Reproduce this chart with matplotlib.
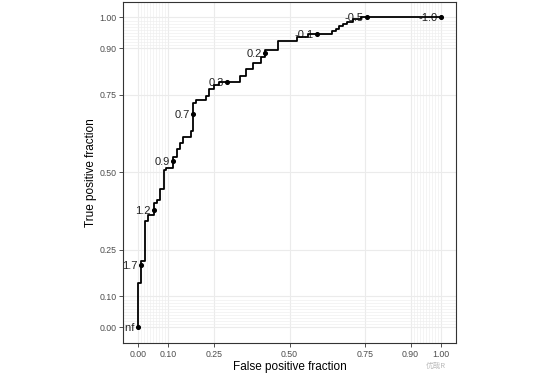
import matplotlib
matplotlib.use("Agg")
import matplotlib.pyplot as plt
import numpy as np

plt.rcParams['font.family'] = ['Liberation Sans', 'DejaVu Sans']

# ROC step corners (false positive fraction, true positive fraction)
fpr = [0.0, 0.0099, 0.0211, 0.031, 0.0528, 0.0627, 0.0726, 0.0838, 0.0914,
       0.1162, 0.1277, 0.1386, 0.1498, 0.1762, 0.1815, 0.1927, 0.2234, 0.2333,
       0.2508, 0.2663, 0.3356, 0.3564, 0.3785, 0.405, 0.4198, 0.461, 0.526,
       0.56, 0.6416, 0.6525, 0.664, 0.6756, 0.6888, 0.7086, 0.735, 1.0]
tpr = [0.0, 0.1446, 0.214, 0.3424, 0.364, 0.4015, 0.41, 0.4465, 0.507,
       0.516, 0.551, 0.576, 0.594, 0.6155, 0.634, 0.7228, 0.7334, 0.7462,
       0.770, 0.7816, 0.7912, 0.8105, 0.833, 0.8538, 0.8725, 0.8956, 0.9239,
       0.9358, 0.9454, 0.955, 0.963, 0.971, 0.979, 0.987, 0.9952, 1.0]

# labelled cutoffs
cut_fpr = [0.0, 0.0099, 0.0528, 0.1162, 0.1815, 0.295, 0.4198, 0.59, 0.757, 1.0]
cut_tpr = [0.0, 0.203, 0.380, 0.538, 0.688, 0.791, 0.886, 0.9454, 1.0, 1.0]
cut_lab = ["Inf", "1.7", "1.2", "0.9", "0.7", "0.3", "0.2", "-0.1", "-0.5", "-1.0"]

major_breaks = [0, 0.1, 0.25, 0.5, 0.75, 0.9, 1]
major_labels = ["0.00", "0.10", "0.25", "0.50", "0.75", "0.90", "1.00"]
minor_breaks = list(np.round(np.arange(0, 0.101, 0.01), 2)) + list(np.round(np.arange(0.9, 1.001, 0.01), 2))

fig = plt.figure(figsize=(5.45, 3.84), dpi=100)
ax = fig.add_axes([0.2257, 0.1068, 0.611, 0.888])

ax.plot(fpr, tpr, drawstyle='steps-pre', color='black', lw=1.3, zorder=3)
ax.scatter(cut_fpr, cut_tpr, s=7, color='black', zorder=4)
for x, y, t in zip(cut_fpr, cut_tpr, cut_lab):
    ax.annotate(t, (x, y), xytext=(-2.5, 0), textcoords='offset points',
                ha='right', va='center_baseline', fontsize=8, color='#222222', zorder=2)

ax.set_xlim(-0.05, 1.05)
ax.set_ylim(-0.05, 1.05)
ax.set_xticks(major_breaks)
ax.set_xticklabels(major_labels)
ax.set_yticks(major_breaks)
ax.set_yticklabels(major_labels)
ax.set_xticks(minor_breaks, minor=True)
ax.set_yticks(minor_breaks, minor=True)

ax.grid(which='major', color='#EBEBEB', lw=0.8)
ax.grid(which='minor', color='#EFEFEF', lw=0.45)
ax.set_axisbelow(True)

ax.tick_params(which='major', labelsize=6.3, labelcolor='#4D4D4D', color='#333333',
               length=2.8, width=0.6, pad=2)
ax.tick_params(which='minor', length=0)
for s in ax.spines.values():
    s.set_color('#333333')
    s.set_linewidth(0.8)

ax.set_xlabel('False positive fraction', fontsize=8.5, color='black')
ax.set_ylabel('True positive fraction', fontsize=8.5, color='black')
ax.xaxis.set_label_coords(0.5, -0.053)
ax.yaxis.set_label_coords(-0.078, 0.5)

fig.text(436 / 545, 1 - 366 / 384, '优哉R', fontsize=5.5, color='#BBBBBB',
         family=['Noto Sans CJK SC', 'DejaVu Sans'], ha='center', va='center')

fig.savefig('out.png', dpi=100)
